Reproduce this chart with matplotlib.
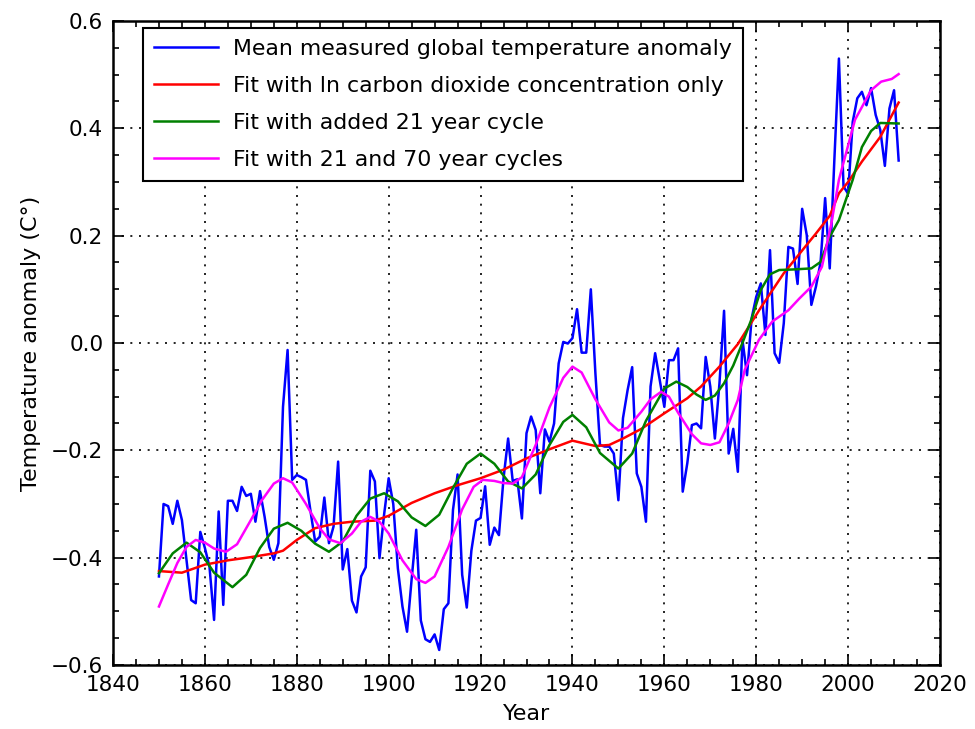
import numpy as np
import matplotlib
matplotlib.use("Agg")
import matplotlib.pyplot as plt
from matplotlib.ticker import MultipleLocator

# annual global temperature anomaly, 1850-2011
years = np.arange(1850, 2012)
mesure = [
    -0.435, -0.300, -0.304, -0.337, -0.294, -0.330, -0.404, -0.479, -0.485, -0.352,
    -0.382, -0.417, -0.516, -0.314, -0.488, -0.294, -0.294, -0.313, -0.268, -0.285,
    -0.281, -0.333, -0.276, -0.324, -0.380, -0.404, -0.373, -0.119, -0.013, -0.255,
    -0.246, -0.250, -0.255, -0.314, -0.370, -0.361, -0.288, -0.373, -0.342, -0.221,
    -0.422, -0.384, -0.480, -0.502, -0.435, -0.418, -0.238, -0.258, -0.401, -0.320,
    -0.252, -0.300, -0.420, -0.491, -0.538, -0.440, -0.348, -0.517, -0.552, -0.557,
    -0.543, -0.572, -0.496, -0.485, -0.311, -0.245, -0.432, -0.493, -0.387, -0.331,
    -0.326, -0.267, -0.376, -0.344, -0.358, -0.252, -0.178, -0.257, -0.254, -0.327,
    -0.168, -0.137, -0.162, -0.280, -0.161, -0.184, -0.150, -0.038, 0.002, -0.001,
    0.009, 0.063, -0.018, -0.018, 0.100, -0.057, -0.190, -0.193, -0.193, -0.206,
    -0.293, -0.140, -0.088, -0.045, -0.243, -0.268, -0.333, -0.081, -0.019, -0.069,
    -0.119, -0.032, -0.032, -0.010, -0.277, -0.224, -0.153, -0.150, -0.159, -0.026,
    -0.081, -0.178, -0.075, 0.060, -0.206, -0.160, -0.240, 0.006, -0.060, 0.046,
    0.086, 0.111, 0.015, 0.173, -0.019, -0.037, 0.037, 0.179, 0.176, 0.110,
    0.250, 0.201, 0.071, 0.105, 0.150, 0.270, 0.139, 0.340, 0.530, 0.292,
    0.278, 0.412, 0.456, 0.468, 0.443, 0.475, 0.425, 0.397, 0.330, 0.437,
    0.471, 0.340,
]

# fit with ln CO2 only
annees_co2 = [1850, 1855, 1860, 1865, 1870, 1875, 1877, 1880, 1884, 1888, 1892, 1897,
              1900, 1905, 1910, 1915, 1920, 1925, 1930, 1935, 1940, 1945, 1948, 1951,
              1955, 1960, 1965, 1968, 1972, 1976, 1981, 1986, 1991, 1993, 1996, 1998,
              2000, 2003, 2007, 2011]
fit_co2 = [-0.425, -0.428, -0.413, -0.405, -0.399, -0.392, -0.387, -0.367, -0.345, -0.337,
           -0.333, -0.331, -0.322, -0.298, -0.280, -0.265, -0.252, -0.236, -0.215, -0.198,
           -0.182, -0.192, -0.190, -0.178, -0.160, -0.131, -0.103, -0.081, -0.044, -0.002,
           0.066, 0.130, 0.183, 0.204, 0.237, 0.279, 0.300, 0.338, 0.384, 0.448]

# fit with added 21 year cycle
annees_21 = [1850, 1853, 1856, 1859, 1862, 1866, 1869, 1872, 1875, 1878, 1881, 1884,
             1887, 1890, 1893, 1896, 1899, 1902, 1905, 1908, 1911, 1914, 1917, 1920,
             1923, 1926, 1929, 1932, 1935, 1938, 1940, 1943, 1946, 1950, 1953, 1956,
             1960, 1962.6, 1965, 1967, 1969, 1971, 1973, 1975, 1977, 1979, 1981, 1983,
             1985, 1988, 1992, 1994, 1996, 1998, 2001, 2003, 2005, 2007, 2011]
fit_21 = [-0.429, -0.392, -0.372, -0.390, -0.428, -0.455, -0.432, -0.382, -0.346, -0.335,
          -0.350, -0.374, -0.389, -0.370, -0.322, -0.290, -0.280, -0.295, -0.325, -0.341,
          -0.320, -0.270, -0.225, -0.206, -0.225, -0.258, -0.271, -0.245, -0.190, -0.147,
          -0.134, -0.157, -0.205, -0.234, -0.206, -0.145, -0.085, -0.072, -0.082, -0.096,
          -0.106, -0.098, -0.075, -0.042, 0.000, 0.045, 0.099, 0.128, 0.136, 0.137,
          0.139, 0.151, 0.198, 0.229, 0.304, 0.365, 0.395, 0.410, 0.409]

# fit with 21 and 70 year cycles
annees_70 = [1850, 1852, 1854, 1856, 1858, 1860, 1862, 1864.6, 1867, 1870, 1872.4, 1875,
             1877, 1879, 1882, 1885, 1887, 1889.5, 1892, 1894, 1896, 1898, 1900, 1903,
             1906, 1908, 1910, 1913, 1916, 1918.5, 1920.5, 1923, 1925, 1927, 1929, 1932,
             1935, 1938, 1940, 1942, 1945, 1948, 1950, 1952, 1955, 1957, 1959.3, 1961,
             1963, 1966, 1968, 1970, 1972, 1974, 1976, 1977.5, 1980.6, 1983.5, 1987,
             1989.4, 1992, 1994.3, 1996.3, 1998, 2001.5, 2005, 2007.2, 2009.5, 2011]
fit_70 = [-0.491, -0.450, -0.410, -0.380, -0.367, -0.372, -0.383, -0.389, -0.375, -0.330,
          -0.293, -0.262, -0.252, -0.260, -0.300, -0.345, -0.366, -0.373, -0.355, -0.333,
          -0.324, -0.333, -0.355, -0.405, -0.440, -0.447, -0.435, -0.380, -0.310, -0.268,
          -0.255, -0.257, -0.261, -0.262, -0.250, -0.190, -0.120, -0.065, -0.044, -0.055,
          -0.105, -0.148, -0.163, -0.158, -0.128, -0.105, -0.091, -0.100, -0.130, -0.170,
          -0.187, -0.190, -0.185, -0.150, -0.106, -0.050, 0.006, 0.040, 0.061,
          0.083, 0.105, 0.142, 0.220, 0.304, 0.416, 0.471, 0.487, 0.492, 0.501]

etiquettes = [
    "Mean measured global temperature anomaly",
    "Fit with ln carbon dioxide concentration only",
    "Fit with added 21 year cycle",
    "Fit with 21 and 70 year cycles",
]

fig = plt.figure(figsize=(9.75, 7.29), dpi=100)
ax = fig.add_axes([0.1159, 0.0878, 0.8482, 0.8834])

ax.plot(years, mesure, color="blue", lw=1.8, label=etiquettes[0])
ax.plot(annees_co2, fit_co2, color="red", lw=1.8, label=etiquettes[1])
ax.plot(annees_21, fit_21, color="green", lw=1.8, label=etiquettes[2])
ax.plot(annees_70, fit_70, color="magenta", lw=1.8, label=etiquettes[3])

ax.set_xlim(1840, 2020)
ax.set_ylim(-0.6, 0.6)
ax.xaxis.set_major_locator(MultipleLocator(20))
ax.xaxis.set_minor_locator(MultipleLocator(5))
ax.yaxis.set_major_locator(MultipleLocator(0.2))
ax.yaxis.set_minor_locator(MultipleLocator(0.05))
ax.yaxis.set_major_formatter(plt.FuncFormatter(lambda v, p: f"{v:.1f}".replace("-", "\u2212")))

ax.tick_params(which="both", direction="in", top=True, right=True, labelsize=15.5, width=1.2)
ax.tick_params(which="major", length=8, pad=7)
ax.tick_params(which="minor", length=4)
for s in ax.spines.values():
    s.set_linewidth(1.8)

ax.grid(True, which="major", color="black", linestyle=(0, (1.2, 4)), linewidth=1.2)

ax.set_xlabel("Year", fontsize=16, labelpad=7)
ax.set_ylabel("Temperature anomaly (C°)", fontsize=16, labelpad=7)

leg = ax.legend(loc="upper left", bbox_to_anchor=(0.0363, 0.989), borderaxespad=0,
                fontsize=15.8, handlelength=2.9, labelspacing=0.77, fancybox=False,
                framealpha=1, edgecolor="black", borderpad=0.5, handletextpad=0.7)
leg.get_frame().set_linewidth(1.5)

fig.savefig("out.png", dpi=100)
